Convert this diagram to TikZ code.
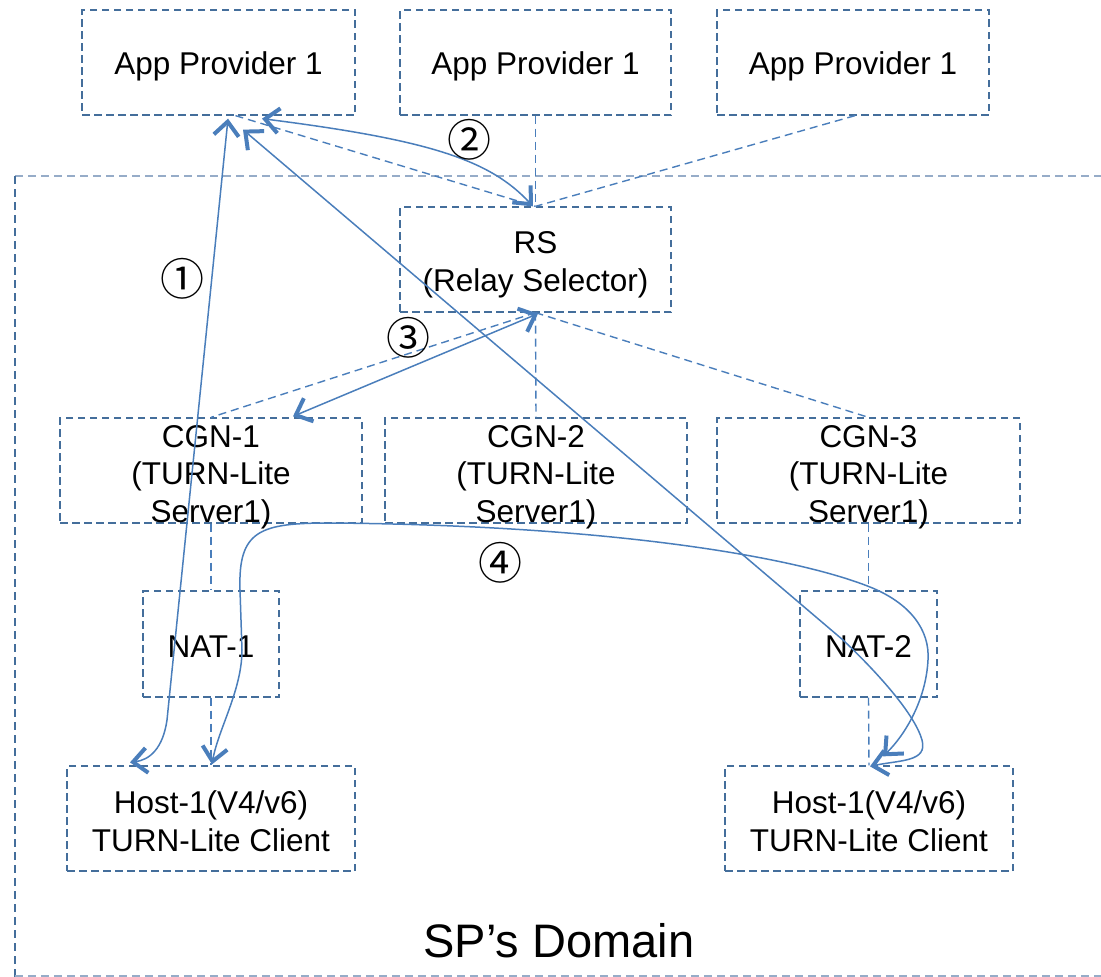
\documentclass[tikz,border=0pt]{standalone}
\usepackage{fontspec}
\setmainfont{Liberation Sans}
\newfontfamily\circfont{Noto Sans CJK SC}
\usetikzlibrary{arrows.meta}
\definecolor{boxc}{RGB}{68,110,155}
\definecolor{linec}{RGB}{74,126,187}
\definecolor{domc}{RGB}{150,172,200}
\begin{document}
\begin{tikzpicture}[x=1pt,y=-1pt,
  box/.style={draw=boxc, line width=1.3pt, dash pattern=on 7.5pt off 4.5pt, minimum height=105pt, inner sep=0pt},
  lbl/.style={inner sep=0pt, align=center, font=\fontsize{31.5}{37.5}\selectfont},
  dcon/.style={draw=linec, line width=1.4pt, dash pattern=on 8pt off 5pt},
  tip/.tip={Straight Barb[length=14pt,width=25pt,line width=4pt]},
  scon/.style={draw=linec, line width=1.5pt, tip-tip},
  num/.style={font=\circfont\fontsize{44}{46}\selectfont, inner sep=0pt}
]
\useasboundingbox (0,0) rectangle (1101,977);
% SP's domain
\draw[domc, line width=1.2pt, dash pattern=on 8pt off 5pt] (15,176) -- (1101,176);
\draw[boxc, line width=1.2pt, dash pattern=on 8pt off 5pt] (15,176) -- (15,977);
\draw[domc, line width=1.2pt, dash pattern=on 8pt off 5pt] (15,976) -- (1101,976);
\node[font=\fontsize{47}{56}\selectfont, inner sep=0pt] (dl) at (559,941) {SP’s Domain};

% boxes
\node[box, minimum width=273pt] (ap1) at (218.5,62.5) {};
\node[box, minimum width=271pt] (ap2) at (535.5,62.5) {};
\node[box, minimum width=272pt] (ap3) at (853,62.5) {};
\node[lbl] (ap1t) at (218.5,66.5) {App Provider 1};
\node[lbl] (ap2t) at (535.5,66.5) {App Provider 1};
\node[lbl] (ap3t) at (853,66.5) {App Provider 1};
\node[box, minimum width=271pt] (rs) at (535.5,259.5) {};
\node[lbl] (rst) at (535.5,265) {RS\\(Relay Selector)};
\node[box, minimum width=302pt] (cgn1) at (211,470.5) {};
\node[box, minimum width=302pt] (cgn2) at (536,470.5) {};
\node[box, minimum width=303pt] (cgn3) at (868.5,470.5) {};
\node[lbl] (cgn1t) at (211,477) {CGN-1\\(TURN-Lite\\Server1)};
\node[lbl] (cgn2t) at (536,477) {CGN-2\\(TURN-Lite\\Server1)};
\node[lbl] (cgn3t) at (868.5,477) {CGN-3\\(TURN-Lite\\Server1)};
\node[box, minimum width=136pt, minimum height=106pt] (nat1) at (211,644) {};
\node[box, minimum width=137pt, minimum height=106pt] (nat2) at (868.5,644) {};
\node[lbl] (nat1t) at (211,646.5) {NAT-1};
\node[lbl] (nat2t) at (868.5,646.5) {NAT-2};
\node[box, minimum width=288pt] (host1) at (211,818.5) {};
\node[box, minimum width=288pt] (host2) at (869,818.5) {};
\node[lbl] (host1t) at (211,821) {Host-1(V4/v6)\\TURN-Lite Client};
\node[lbl] (host2t) at (869,821) {Host-1(V4/v6)\\TURN-Lite Client};

% dashed connectors
\draw[dcon] (ap2.south) -- (rs.north);
\draw[dcon] ([xshift=2pt]ap3.south) -- (rs.north);
\draw[dcon] ([xshift=17pt]ap1.south) -- (rs.north);
\draw[dcon] (rs.south) -- (cgn1.north);
\draw[dcon] (rs.south) -- (cgn2.north);
\draw[dcon] (rs.south) -- (cgn3.north);
\draw[dcon] (cgn1.south) -- (nat1.north);
\draw[dcon] (nat1.south) -- (host1.north);
\draw[dcon] (cgn3.south) -- (nat2.north);
\draw[dcon] (nat2.south) -- (host2.north);

% solid connectors
% (1)
\draw[scon] ([xshift=-81pt,yshift=3pt]host1.north) .. controls (150,760) and (163,748) .. (167,720) -- ([xshift=9.5pt,yshift=-3pt]ap1.south);
% long diagonal
\draw[scon] ([xshift=24.5pt,yshift=-14pt]ap1.south) -- (843,640) .. controls (880,675) and (915,715) .. (922,740) .. controls (928,762) and (900,760) .. ([xshift=1pt,yshift=-1pt]host2.north);
% (2)
\draw[scon] ([xshift=43.5pt,yshift=-3pt]ap1.south) .. controls (430,140) and (490,160) .. ([xshift=-2.5pt]rs.north);
% (3)
\draw[scon] ([xshift=82pt,yshift=1pt]cgn1.north) -- ([xshift=2.5pt,yshift=-1pt]rs.south);
% (4)
\draw[scon] ([xshift=1pt,yshift=1pt]host1.north) .. controls (218,730) and (242,690) .. (242,650) -- (240,590) .. controls (238,530) and (260,523) .. (330,523) .. controls (600,525) and (790,555) .. (870,587) .. controls (910,603) and (930,630) .. (928,660) .. controls (926,700) and (905,735) .. ([xshift=14pt,yshift=9pt]host2.north);

% numbers
\node[num] (n1) at (182,279) {①};
\node[num] (n2) at (469,140) {②};
\node[num] (n3) at (408,338) {③};
\node[num] (n4) at (500,563) {④};
\end{tikzpicture}
\end{document}
